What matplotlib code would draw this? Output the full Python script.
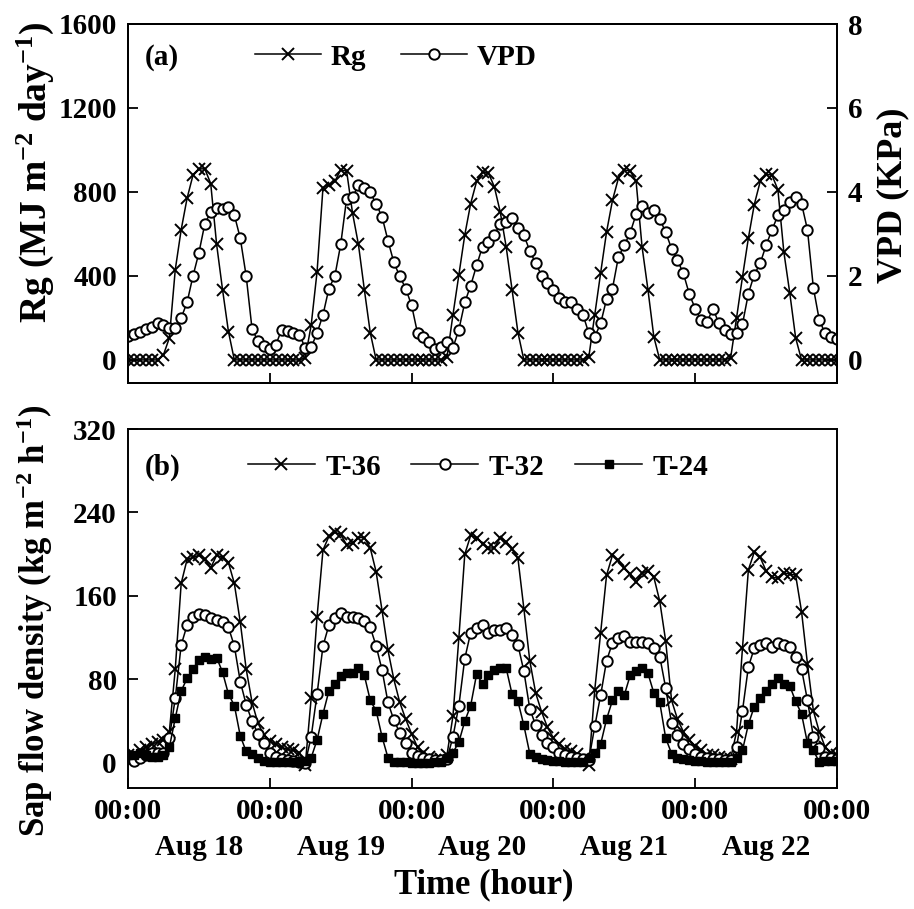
import numpy as np
import matplotlib
matplotlib.use('Agg')
import matplotlib.pyplot as plt

# hourly values, Aug 18 00:00 .. Aug 23 00:00
rg = ([0, 0, 0, 0, 0, 0, 24, 105, 430, 620, 770, 880, 910, 910, 840, 550, 335, 135, 0, 0, 0, 0, 0, 0] +
      [0, 0, 0, 0, 0, 0, 10, 165, 420, 820, 835, 850, 905, 900, 700, 550, 335, 130, 0, 0, 0, 0, 0, 0] +
      [0, 0, 0, 0, 0, 0, 15, 215, 405, 595, 745, 850, 895, 890, 825, 705, 540, 335, 130, 0, 0, 0, 0, 0] +
      [0, 0, 0, 0, 0, 0, 15, 215, 415, 610, 760, 865, 905, 900, 850, 540, 335, 110, 0, 0, 0, 0, 0, 0] +
      [0, 0, 0, 0, 0, 0, 10, 200, 395, 580, 740, 850, 885, 880, 810, 515, 320, 105, 0, 0, 0, 0, 0, 0] +
      [0])
vpd = ([0.57, 0.62, 0.67, 0.73, 0.79, 0.88, 0.84, 0.76, 0.77, 1.0, 1.37, 2.0, 2.55, 3.24, 3.52, 3.62, 3.59, 3.64, 3.45, 2.9, 2.0, 0.73, 0.45, 0.34] +
       [0.27, 0.35, 0.72, 0.68, 0.65, 0.6, 0.29, 0.3, 0.64, 1.07, 1.7, 1.99, 2.75, 3.84, 3.87, 4.16, 4.09, 3.99, 3.71, 3.41, 2.84, 2.32, 1.99, 1.7] +
       [1.3, 0.64, 0.54, 0.42, 0.27, 0.31, 0.43, 0.29, 0.72, 1.37, 1.77, 2.25, 2.7, 2.8, 2.98, 3.24, 3.28, 3.37, 3.15, 2.97, 2.6, 2.3, 2.01, 1.82] +
       [1.66, 1.48, 1.37, 1.39, 1.22, 1.08, 0.63, 0.55, 0.87, 1.45, 1.7, 2.45, 2.73, 3.03, 3.47, 3.66, 3.51, 3.56, 3.36, 3.04, 2.65, 2.37, 2.06, 1.57] +
       [1.22, 0.94, 0.9, 1.22, 0.88, 0.72, 0.61, 0.64, 0.85, 1.58, 2.03, 2.3, 2.73, 3.1, 3.44, 3.57, 3.77, 3.88, 3.72, 3.1, 1.72, 0.95, 0.63, 0.55] +
       [0.5])
t36 = ([8, 8, 12, 15, 18, 20, 22, 30, 90, 172, 195, 197, 199, 195, 187, 199, 197, 192, 172, 135, 90, 58, 38, 27] +
       [21, 18, 15, 13, 12, 10, -2, 62, 140, 204, 217, 221, 219, 209, 211, 216, 216, 206, 183, 146, 108, 80, 58, 42] +
       [28, 15, 10, 6, 3, 4, 8, 45, 120, 200, 218, 216, 210, 206, 206, 216, 212, 205, 196, 148, 98, 67, 49, 34] +
       [24, 18, 13, 11, 9, 4, -2, 70, 125, 180, 199, 194, 187, 181, 173, 182, 184, 178, 155, 117, 60, 42, 30, 22] +
       [16, 12, 8, 8, 6, 5, 4, 30, 110, 185, 202, 197, 184, 178, 177, 182, 181, 180, 145, 95, 50, 30, 15, 10] +
       [8])
t32 = ([5, 2, 5, 8, 10, 10, 10, 24, 62, 113, 132, 140, 143, 142, 139, 137, 135, 130, 112, 78, 56, 40, 28, 19] +
       [10, 6, 4, 3, 2, 1, 0, 25, 66, 112, 132, 139, 144, 140, 140, 139, 136, 130, 112, 89, 58, 41, 29, 19] +
       [10, 7, 5, 4, 3, 3, 4, 25, 55, 100, 125, 129, 132, 125, 127, 127, 129, 123, 113, 88, 52, 36, 27, 19] +
       [15, 10, 8, 6, 5, 4, 3, 35, 65, 98, 115, 120, 122, 116, 116, 116, 115, 110, 102, 72, 38, 27, 18, 13] +
       [9, 6, 5, 4, 4, 3, 3, 15, 50, 92, 110, 113, 115, 111, 115, 113, 111, 102, 90, 60, 25, 14, 6, 5] +
       [4])
t24 = ([8, 8, 10, 8, 6, 6, 8, 15, 43, 69, 81, 90, 99, 102, 100, 101, 87, 66, 55, 26, 11, 9, 5, 2] +
       [1, 1, 1, 1, 1, 1, 2, 5, 22, 47, 69, 76, 83, 86, 86, 91, 84, 60, 50, 25, 5, 1, 1, 1] +
       [0, 0, 0, 0, 1, 1, 5, 10, 20, 40, 55, 85, 76, 84, 89, 91, 91, 66, 59, 36, 9, 6, 4, 3] +
       [2, 2, 1, 1, 1, 1, 5, 10, 18, 42, 60, 69, 65, 84, 88, 91, 86, 67, 58, 24, 9, 5, 4, 3] +
       [2, 2, 1, 1, 1, 1, 1, 5, 12, 37, 54, 62, 69, 76, 81, 76, 74, 59, 47, 19, 12, 1, 2, 2] +
       [2])
day_labels = ['Aug 18', 'Aug 19', 'Aug 20', 'Aug 21', 'Aug 22']

t = np.arange(len(rg)) / 24.0

plt.rcParams.update({
    'font.family': 'Liberation Serif',
    'font.weight': 'bold',
    'mathtext.fontset': 'custom',
    'mathtext.rm': 'Liberation Serif:bold',
    'mathtext.bf': 'Liberation Serif:bold',
    'mathtext.default': 'bf',
    'axes.linewidth': 1.4,
    'xtick.direction': 'in',
    'ytick.direction': 'in',
    'xtick.major.size': 7,
    'ytick.major.size': 7,
    'xtick.major.width': 1.3,
    'ytick.major.width': 1.3,
})

W, H = 914, 909
fig = plt.figure(figsize=(W / 100, H / 100), dpi=100)
ax1 = fig.add_axes([128 / W, 1 - 383 / H, 709 / W, 359 / H])
ax2 = ax1.twinx()
ax3 = fig.add_axes([128 / W, 1 - 788 / H, 709 / W, 359 / H])

lw = 1.1
l1, = ax1.plot(t, rg, 'k-', lw=lw, marker='x', ms=9, mew=1.4, label='Rg')
l2, = ax2.plot(t, vpd, 'k-', lw=lw, marker='o', ms=7.5, mfc='white', mew=1.4, label='VPD')

ax3.plot(t, t36, 'k-', lw=lw, marker='x', ms=9, mew=1.4, label='T-36')
ax3.plot(t, t32, 'k-', lw=lw, marker='o', ms=7.5, mfc='white', mew=1.4, label='T-32')
ax3.plot(t, t24, 'k-', lw=lw, marker='s', ms=6, mew=1, label='T-24')

tick_fs = 21
for ax in (ax1, ax3):
    ax.set_xlim(0, 5)
    ax.set_xticks(range(6))
ax1.set_xticklabels([])
ax1.set_ylim(-110, 1600)
ax1.set_yticks([0, 400, 800, 1200, 1600])
ax2.set_ylim(-0.55, 8)
ax2.set_yticks([0, 2, 4, 6, 8])
ax3.set_ylim(-24, 320)
ax3.set_yticks([0, 80, 160, 240, 320])

ax3.set_xticklabels(['00:00'] * 6)
ax3.set_xticks(np.arange(5) + 0.5, minor=True)
ax3.set_xticklabels(day_labels, minor=True)
ax3.tick_params(axis='x', which='major', labelsize=tick_fs, pad=7)
ax3.tick_params(axis='x', which='minor', length=0, labelsize=tick_fs, pad=33)

for ax in (ax1, ax2, ax3):
    ax.tick_params(axis='y', labelsize=tick_fs, pad=8)
ax1.tick_params(axis='x', top=False)
ax3.tick_params(axis='x', top=False)

leg_kw = dict(frameon=False, fontsize=tick_fs, loc='center left', borderaxespad=0,
              borderpad=0, handletextpad=0.35, numpoints=1)
ax2.legend([l1, l2], ['Rg', 'VPD'], bbox_to_anchor=(0.179, 0.908), ncol=2,
           handlelength=2.25, columnspacing=1.2, **leg_kw)
ax3.legend(bbox_to_anchor=(0.169, 0.894), ncol=3, handlelength=2.3,
           columnspacing=1.05, **leg_kw)

ax1.text(0.024, 0.908, '(a)', transform=ax1.transAxes, va='center', fontsize=tick_fs)
ax3.text(0.024, 0.894, '(b)', transform=ax3.transAxes, va='center', fontsize=tick_fs)

fig.text(35 / W, 1 - 172 / H, r'Rg (MJ m$^{-2}$ day$^{-1}$)', rotation=90,
         ha='center', va='center', fontsize=27)
fig.text(893 / W, 1 - 195 / H, 'VPD (KPa)', rotation=90,
         ha='center', va='center', fontsize=26)
fig.text(35 / W, 1 - 621 / H, r'Sap flow density (kg m$^{-2}$ h$^{-1}$)', rotation=90,
         ha='center', va='center', fontsize=25)
fig.text(484 / W, 1 - 885 / H, 'Time (hour)', ha='center', va='center', fontsize=25)

fig.savefig('out.png', dpi=100)
